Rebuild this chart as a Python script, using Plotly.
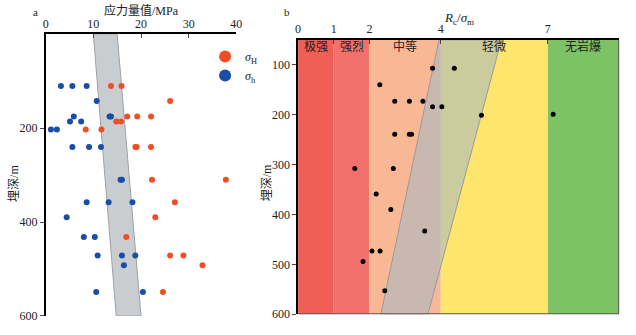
import plotly.graph_objects as go

W, H = 636, 335
SERIF = "Liberation Serif, Noto Sans CJK SC, serif"

# ---------- panel a data ----------
sigH_depth = [110, 110, 142, 175, 175, 175, 186, 186, 203, 203, 240, 240, 240,
              310, 310, 358, 390, 432, 471, 471, 492, 549]
sigH_val = [13.7, 15.9, 26.1, 17.1, 19.2, 22.1, 14.8, 15.8, 8.4, 11.7, 18.8, 19.1, 22.1,
            22.3, 37.8, 27.1, 23.0, 16.9, 26.1, 28.9, 32.9, 24.6]
sigh_depth = [110, 110, 110, 142, 175, 175, 175, 186, 186, 203, 203, 240, 240, 240,
              310, 310, 358, 358, 358, 390, 432, 432, 471, 471, 471, 492, 549, 549]
sigh_val = [3.2, 5.6, 8.6, 10.7, 5.9, 13.4, 13.7, 5.1, 7.45, 1.1, 2.35, 5.6, 9.1, 11.6,
            15.7, 16.0, 8.6, 13.2, 18.2, 4.4, 8.0, 10.3, 10.9, 16.0, 18.8, 16.4, 10.6, 20.4]
bandA_x = [10.0, 15.0, 20.0, 14.8, 10.0]
bandA_y = [0, 0, 600, 600, 0]

# ---------- panel b data ----------
ratio_depth = [107, 107, 140, 173, 173, 173, 184, 184, 201, 199, 239, 239, 239,
               308, 308, 359, 390, 433, 473, 473, 494, 553]
ratio_val = [3.77, 4.38, 2.29, 2.71, 3.12, 3.50, 3.77, 4.03, 5.14, 7.15, 2.71, 3.12, 3.18,
             1.59, 2.67, 2.19, 2.60, 3.55, 2.07, 2.30, 1.82, 2.43]
zone_edges = [0, 1, 2, 4, 7, 9]
zone_names = ["极强", "强烈", "中等", "轻微", "无岩爆"]
zone_colors = ["#f05f55", "#f2716c", "#f8b896", "#fde66b", "#7dc264"]
bandB_x = [3.95, 5.7, 3.64, 2.32, 3.95]
bandB_y = [50, 50, 600, 600, 50]

# pixel layout helpers
def px_x(p):
    return p / W

def px_y(p):
    return 1 - p / H

fig = go.Figure()

# panel a
fig.add_trace(go.Scatter(x=bandA_x, y=bandA_y, mode="lines", fill="toself",
                         fillcolor="#c9cdd0", line=dict(color="#9ea2a5", width=1),
                         xaxis="x", yaxis="y", showlegend=False, hoverinfo="skip"))
fig.add_trace(go.Scatter(x=sigH_val, y=sigH_depth, mode="markers",
                         marker=dict(color="#f24e26", size=6), xaxis="x", yaxis="y",
                         name="<i>σ</i><sub>H</sub>"))
fig.add_trace(go.Scatter(x=sigh_val, y=sigh_depth, mode="markers",
                         marker=dict(color="#1a4ea6", size=6), xaxis="x", yaxis="y",
                         name="<i>σ</i><sub>h</sub>"))

# panel b
shapes = []
for i in range(len(zone_names)):
    shapes.append(dict(type="rect", xref="x2", yref="y2", x0=zone_edges[i], x1=zone_edges[i + 1],
                       y0=50, y1=600, fillcolor=zone_colors[i], line=dict(width=0), layer="below"))
# right & bottom frame of panel b
shapes.append(dict(type="line", xref="x2", yref="y2", x0=9, x1=9, y0=50, y1=600,
                   line=dict(color="#5a5a5a", width=2)))
shapes.append(dict(type="line", xref="x2", yref="y2", x0=0, x1=9, y0=600, y1=600,
                   line=dict(color="#5a5a5a", width=2)))

fig.add_trace(go.Scatter(x=bandB_x, y=bandB_y, mode="lines", fill="toself",
                         fillcolor="rgba(168,184,193,0.59)", line=dict(color="#9a9a9a", width=1),
                         xaxis="x2", yaxis="y2", showlegend=False, hoverinfo="skip"))
fig.add_trace(go.Scatter(x=ratio_val, y=ratio_depth, mode="markers",
                         marker=dict(color="black", size=5), xaxis="x2", yaxis="y2",
                         showlegend=False))

tickfont = dict(family=SERIF, size=12, color="#222")

def ann(text, x, y, size=12, angle=0, xref="paper"):
    return dict(text=text, x=x, y=y, xref=xref, yref="paper", showarrow=False,
                xanchor="center", yanchor="middle", textangle=angle,
                font=dict(family=SERIF, size=size, color="#222"))

annotations = [
    ann("a", px_x(33), px_y(12), 11),
    ann("b", px_x(288), px_y(12), 11),
    ann("应力量值/MPa", px_x(140), px_y(11), 12),
    ann("<i>R</i><sub>c</sub>/<i>σ</i><sub>m</sub>", px_x(463), px_y(19), 13),
    ann("埋深/m", px_x(11), px_y(187), 12, -90),
    ann("埋深/m", px_x(268), px_y(187), 12, -90),
]
for i, nm in enumerate(zone_names):
    annotations.append(ann(nm, (zone_edges[i] + zone_edges[i + 1]) / 2, px_y(48), 12, 0, "x2"))

fig.update_layout(
    width=W, height=H, margin=dict(l=0, r=0, t=0, b=0),
    paper_bgcolor="white", plot_bgcolor="rgba(0,0,0,0)",
    shapes=shapes, annotations=annotations,
    showlegend=True,
    legend=dict(x=px_x(205), y=px_y(43), xanchor="left", yanchor="top",
                bgcolor="rgba(0,0,0,0)", font=dict(family=SERIF, size=12, color="#222"),
                itemsizing="constant", tracegroupgap=2),
    xaxis=dict(domain=[px_x(43.3), px_x(236.7)], range=[0, 40], side="top",
               tickvals=[0, 10, 20, 30, 40], ticks="inside", ticklen=4,
               showline=True, linecolor="black", linewidth=1.5, showgrid=False,
               zeroline=False, tickfont=tickfont, anchor="y"),
    yaxis=dict(domain=[px_y(322.7), px_y(35)], range=[600, 0],
               tickvals=[200, 400, 600], ticks="outside", ticklen=4,
               showline=True, linecolor="black", linewidth=1.5, showgrid=False,
               zeroline=False, tickfont=tickfont, anchor="x"),
    xaxis2=dict(domain=[px_x(299.3), px_x(625)], range=[0, 9], side="top",
                tickvals=[0, 1, 2, 4, 7], ticks="inside", ticklen=4,
                showline=True, linecolor="black", linewidth=1.5, showgrid=False,
                zeroline=False, tickfont=tickfont, anchor="y2"),
    yaxis2=dict(domain=[px_y(321), px_y(40.7)], range=[600, 50],
                tickvals=[100, 200, 300, 400, 500, 600], ticks="outside", ticklen=4,
                showline=True, linecolor="black", linewidth=1.5, showgrid=False,
                zeroline=False, tickfont=tickfont, anchor="x2"),
)

fig.write_html("out.html")
